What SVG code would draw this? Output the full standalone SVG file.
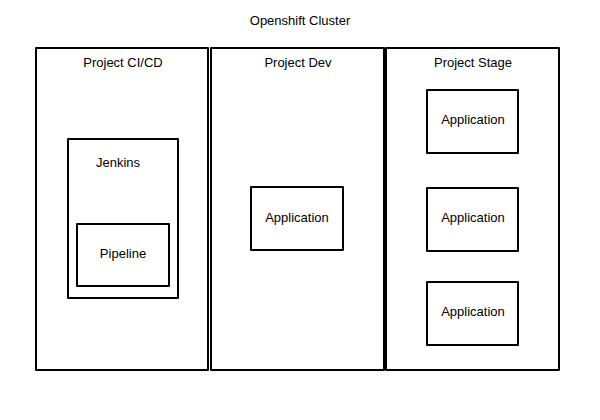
<svg xmlns="http://www.w3.org/2000/svg" width="600" height="420" viewBox="0 0 600 420">
<style>
.box{fill:#fff;stroke:#000;stroke-width:2;stroke-linejoin:round}
.t{font-family:"Liberation Sans",Arial,sans-serif;font-size:13px;fill:#000;text-anchor:middle}
</style>
<rect width="600" height="420" fill="#fff"/>
<text class="t" x="300" y="25">Openshift Cluster</text>
<g id="project-cicd">
<rect class="box" x="36" y="48" width="172" height="322"/>
<text class="t" x="123" y="67">Project CI/CD</text>
</g>
<g id="jenkins">
<rect class="box" x="68" y="139" width="110" height="159"/>
<text class="t" x="118" y="167">Jenkins</text>
</g>
<g id="pipeline">
<rect class="box" x="77" y="224" width="92" height="62"/>
<text class="t" x="123" y="258">Pipeline</text>
</g>
<g id="project-dev">
<rect class="box" x="211" y="48" width="173" height="322"/>
<text class="t" x="298" y="67">Project Dev</text>
</g>
<g id="dev-app">
<rect class="box" x="251" y="187" width="92" height="63"/>
<text class="t" x="297" y="222">Application</text>
</g>
<g id="project-stage">
<rect class="box" x="386" y="48" width="173" height="322"/>
<text class="t" x="473" y="67">Project Stage</text>
</g>
<g id="stage-app-1">
<rect class="box" x="427" y="90" width="91" height="63"/>
<text class="t" x="473" y="124">Application</text>
</g>
<g id="stage-app-2">
<rect class="box" x="427" y="188" width="91" height="63"/>
<text class="t" x="473" y="222">Application</text>
</g>
<g id="stage-app-3">
<rect class="box" x="427" y="282" width="91" height="63"/>
<text class="t" x="473" y="316">Application</text>
</g>
<g id="connectors"></g>
</svg>
